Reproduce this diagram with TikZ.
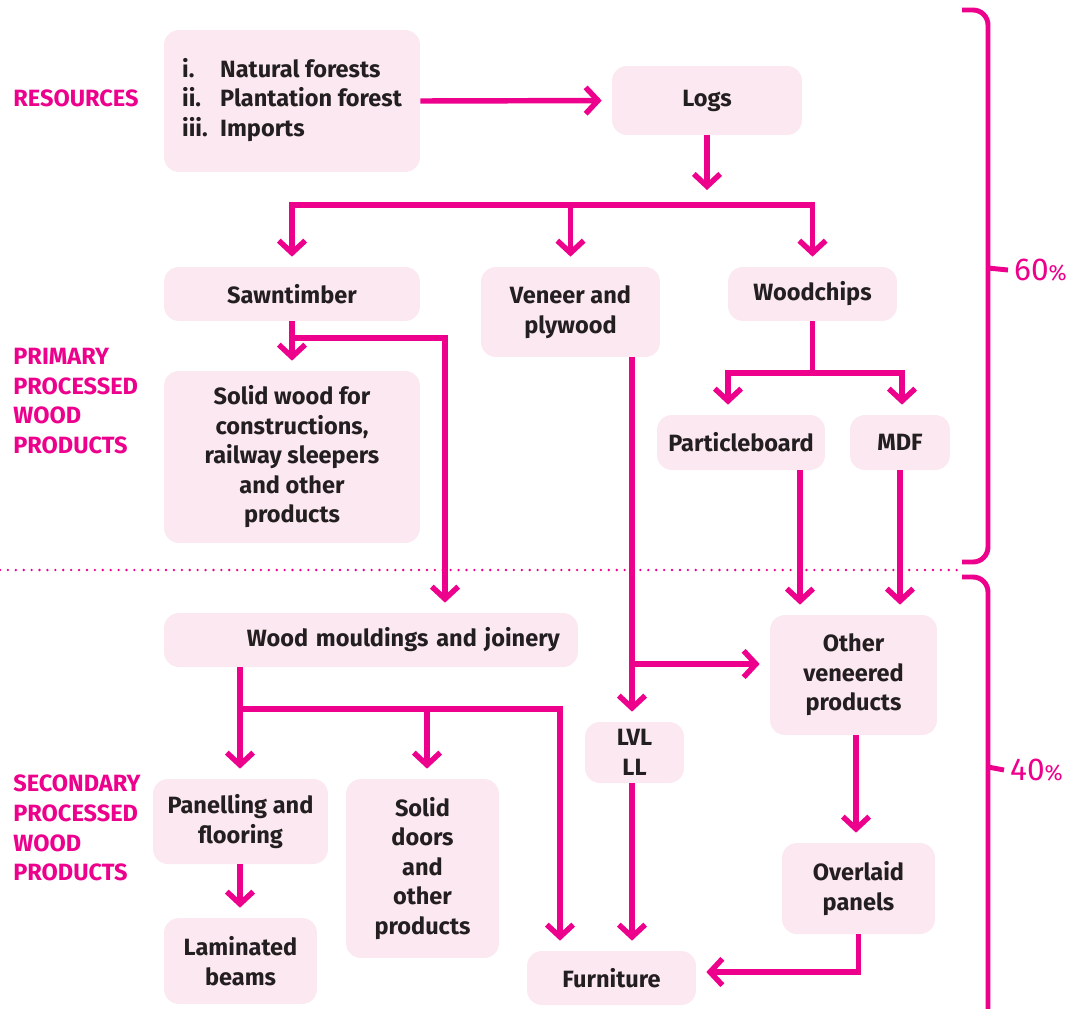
\documentclass[tikz,border=0pt]{standalone}
\usepackage{fontspec}
\setmainfont{Fira Sans}
\usepackage{tikz}
\usetikzlibrary{
  arrows.meta,
  positioning
}
\definecolor{flowpink}{HTML}{EC008C}
\definecolor{boxfill}{HTML}{FCE8F0}
\definecolor{inktext}{HTML}{231F20}

\begin{document}
\begin{tikzpicture}[
  x=0.02cm, y=-0.02cm,
  item/.style={fill=boxfill, rounded corners=0.3cm, inner sep=0pt, align=center,
    text=inktext, font=\bfseries\fontsize{13.4}{16.8}\selectfont},
  link/.style={draw=flowpink, line width=3.1pt},
  flow/.style={link, -{Straight Barb[length=7pt,width=15pt]}, shorten >=0.2cm},
  biflow/.style={link, {Straight Barb[length=7pt,width=15pt]}-{Straight Barb[length=7pt,width=15pt]},
    shorten >=0.2cm, shorten <=0.2cm},
  stage/.style={anchor=west, align=left, inner xsep=0pt, text=flowpink,
    font=\bfseries\fontsize{13.4}{17}\selectfont},
  share/.style={anchor=west, text=flowpink, font=\fontsize{18}{20}\selectfont},
]
  \useasboundingbox (0,0) rectangle (1075,1008);

  % Boxes
  \node[item, minimum width=5.12cm, minimum height=2.84cm] (res) at (292,101)
    {\begin{tabular}{@{}l@{\hspace{0.25cm}}l@{}}
      i. & Natural forests\\ ii. & Plantation forest\\ iii. & Imports
    \end{tabular}};
  \node[item, minimum width=3.8cm, minimum height=1.38cm] (logs) at (707,100.5) {Logs};
  \node[item, minimum width=5.12cm, minimum height=1.08cm] (saw) at (292,294) {Sawntimber};
  \node[item, minimum width=3.58cm, minimum height=1.8cm] (veneer) at (570.5,312) {Veneer and\\plywood};
  \node[item, minimum width=3.38cm, minimum height=1.08cm] (chips) at (812.5,294) {Woodchips};
  \node[item, minimum width=5.12cm, minimum height=3.44cm] (solid) at (292,457)
    {Solid wood for\\constructions,\\railway sleepers\\and other\\products};
  \node[item, minimum width=3.36cm, minimum height=1.1cm] (pboard) at (741,442.5) {Particleboard};
  \node[item, minimum width=2.0cm, minimum height=1.1cm] (mdf) at (900,442.5) {MDF};
  \node[item, text width=7.56cm, inner xsep=0.36cm, align=right, minimum height=1.08cm] (mould)
    at (371,640) {Wood mouldings and joinery};
  \node[item, minimum width=3.34cm, minimum height=2.4cm] (other) at (853.5,675) {Other\\veneered\\products};
  \node[item, minimum width=1.98cm, minimum height=1.22cm] (lvl) at (634.5,752.5) {LVL\\LL};
  \node[item, minimum width=3.5cm, minimum height=1.7cm] (panel) at (240.5,821.5) {Panelling and\\flooring};
  \node[item, minimum width=3.06cm, minimum height=3.58cm] (doors) at (422.5,868.5)
    {Solid\\doors\\and\\other\\products};
  \node[item, minimum width=3.06cm, minimum height=1.72cm] (lam) at (240.5,961) {Laminated\\beams};
  \node[item, minimum width=3.38cm, minimum height=1.08cm] (furn) at (611.5,978) {Furniture};
  \node[item, minimum width=3.06cm, minimum height=1.82cm] (over) at (858.5,888.5) {Overlaid\\panels};

  % Stage labels
  \node[stage] (resl) at (13,98) {RESOURCES};
  \node[stage] (priml) at (13,401) {PRIMARY\\PROCESSED\\WOOD\\PRODUCTS};
  \node[stage] (secl) at (13,828) {SECONDARY\\PROCESSED\\WOOD\\PRODUCTS};

  % Junction rows and columns
  \coordinate (fork1) at (707,190);
  \coordinate (row1) at (0,205);
  \coordinate (row2) at (0,338);
  \coordinate (row3) at (0,664);
  \coordinate (row4) at (0,373);
  \coordinate (row5) at (0,709);
  \coordinate (row6) at (0,972);
  \coordinate (col1) at (445,0);
  \coordinate (col2) at (632,0);
  \coordinate (col3) at (728,0);
  \coordinate (col4) at (902,0);
  \coordinate (col5) at (800,0);
  \coordinate (col6) at (240,0);
  \coordinate (col7) at (427,0);
  \coordinate (col8) at (560,0);
  \coordinate (col9) at (856,0);

  % Connectors
  \draw[flow] (res.east) -- (logs.west);
  \draw[flow, shorten >=0pt] (logs.south) -- (fork1);
  \draw[biflow] (saw.north) -- (saw.north |- row1) -- (chips.north |- row1) -- (chips.north);
  \draw[flow] (veneer.north |- row1) -- (veneer.north);

  \draw[flow] (saw.south) -- (solid.north);
  \draw[flow] (saw.south |- row2) -- (col1 |- row2) -- (mould.north -| col1);

  \draw[flow] (veneer.south -| col2) -- (lvl.north -| col2);
  \draw[flow] (col2 |- row3) -- (other.west |- row3);

  \draw[link] (chips.south) -- (chips.south |- row4);
  \draw[biflow] (pboard.north -| col3) -- (col3 |- row4) -- (col4 |- row4) -- (mdf.north -| col4);
  \draw[flow] (pboard.south -| col5) -- (other.north -| col5);
  \draw[flow] (mdf.south) -- (other.north -| mdf.south);

  \draw[link] (mould.south -| col6) -- (col6 |- row5);
  \draw[biflow] (panel.north -| col6) -- (col6 |- row5) -- (col8 |- row5) -- (furn.north -| col8);
  \draw[flow] (col7 |- row5) -- (doors.north -| col7);
  \draw[flow] (panel.south -| col6) -- (lam.north -| col6);
  \draw[flow] (lvl.south -| col2) -- (furn.north -| col2);
  \draw[flow] (other.south -| col9) -- (over.north -| col9);
  \draw[flow] (over.south) -- (over.south |- row6) -- (furn.east |- row6);

  % Split line and braces
  \draw[flowpink, line width=1.5pt, line cap=round, dash pattern=on 0pt off 4.5pt] (0,570) -- (960,570);
  \draw[link, line width=2.8pt, rounded corners=0.3cm] (962,10) -- (988,10) -- (988,562) -- (962,562);
  \draw[link, line width=2.8pt, rounded corners=0.3cm] (962,577) -- (988,577) -- (988,1012);
  \node[share] (top) at (1008,270) {60{\fontsize{12.5}{12}\selectfont\%}};
  \node[share] (bottom) at (1004,770) {40{\fontsize{12.5}{12}\selectfont\%}};
  \draw[link, line width=2.8pt] (988,268) -- (top.west);
  \draw[link, line width=2.8pt] (988,767) -- (bottom.west);
\end{tikzpicture}
\end{document}
